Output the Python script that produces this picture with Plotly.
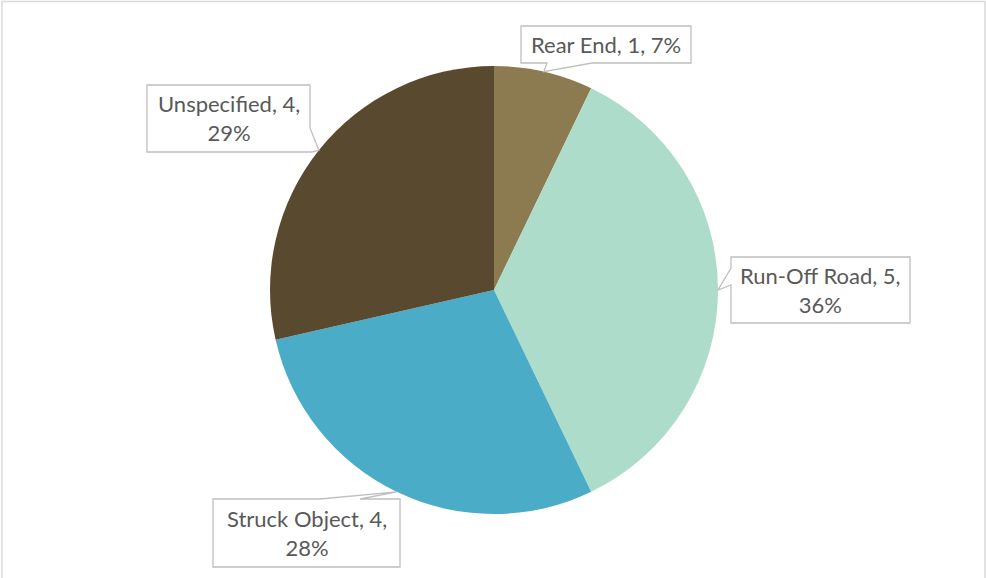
import math
import plotly.graph_objects as go

# Crash types and counts
categories = ["Rear End", "Run-Off Road", "Struck Object", "Unspecified"]
counts = [1, 5, 4, 4]
pct_labels = ["7%", "36%", "28%", "29%"]
colors = ["#8C7A50", "#AEDCCA", "#4AACC6", "#594A2F"]

W, H = 986, 578
CX, CY, R = 494, 290, 224  # pie centre and radius in pixels

# Callout boxes (pixels: x0, y0, x1, y1), wedge base points and whether the text wraps
boxes = [
    (521, 26, 691, 63),
    (731, 257, 910, 323),
    (213, 499, 400, 567),
    (147, 85, 310, 152),
]
wrap = [False, True, True, True]


def px(x):
    return x / W


def py(y):
    return 1 - y / H


fig = go.Figure(
    go.Pie(
        labels=categories,
        values=counts,
        sort=False,
        direction="clockwise",
        rotation=0,
        marker=dict(colors=colors, line=dict(width=0)),
        textinfo="none",
        hoverinfo="label+value+percent",
        domain=dict(x=[px(CX - R), px(CX + R)], y=[py(CY + R), py(CY - R)]),
        showlegend=False,
    )
)

# Tip of each callout sits on the rim at the slice's mid-angle
total = sum(counts)
tips = []
acc = 0
for v in counts:
    mid = (acc + v / 2) / total * 2 * math.pi
    tips.append((CX + R * math.sin(mid), CY - R * math.cos(mid)))
    acc += v


def to_path(points):
    return "M " + " L ".join(f"{px(x):.5f},{py(y):.5f}" for x, y in points) + " Z"


shapes = []
for i, (x0, y0, x1, y1) in enumerate(boxes):
    tx, ty = tips[i]
    if i == 0:  # wedge on bottom edge
        pts = [(x0, y0), (x1, y0), (x1, y1), (592, y1), (tx, ty), (547, y1), (x0, y1)]
    elif i == 1:  # wedge on left edge
        pts = [(x0, y0), (x1, y0), (x1, y1), (x0, y1), (x0, 285), (tx, ty), (x0, 268)]
    elif i == 2:  # wedge on top edge
        pts = [(x0, y0), (320, y0), (tx, ty), (360, y0), (x1, y0), (x1, y1), (x0, y1)]
    else:  # wedge at bottom-right corner
        pts = [(x0, y0), (x1, y0), (x1, 128), (tx, ty), (x1 + 2, y1), (x0, y1)]
    shapes.append(dict(
        type="path", xref="paper", yref="paper", path=to_path(pts),
        fillcolor="white", line=dict(color="#BFBFBF", width=1.3),
    ))

# Outer chart border
shapes.append(dict(
    type="rect", xref="paper", yref="paper",
    x0=px(2), x1=px(985), y0=py(600), y1=py(1.5),
    line=dict(color="#D9D9D9", width=1.5), fillcolor="rgba(0,0,0,0)",
))

annotations = []
for i, (x0, y0, x1, y1) in enumerate(boxes):
    sep = "<br>" if wrap[i] else " "
    text = f"{categories[i]}, {counts[i]},{sep}{pct_labels[i]}"
    annotations.append(dict(
        xref="paper", yref="paper",
        x=px((x0 + x1) / 2), y=py((y0 + y1) / 2),
        xanchor="center", yanchor="middle",
        text=text, showarrow=False, align="center",
        font=dict(family="Lato, Liberation Sans, sans-serif", size=22, color="#595959"),
    ))

fig.update_layout(
    width=W, height=H,
    margin=dict(l=0, r=0, t=0, b=0),
    paper_bgcolor="white",
    plot_bgcolor="white",
    shapes=shapes,
    annotations=annotations,
)

fig.write_html("out.html")
